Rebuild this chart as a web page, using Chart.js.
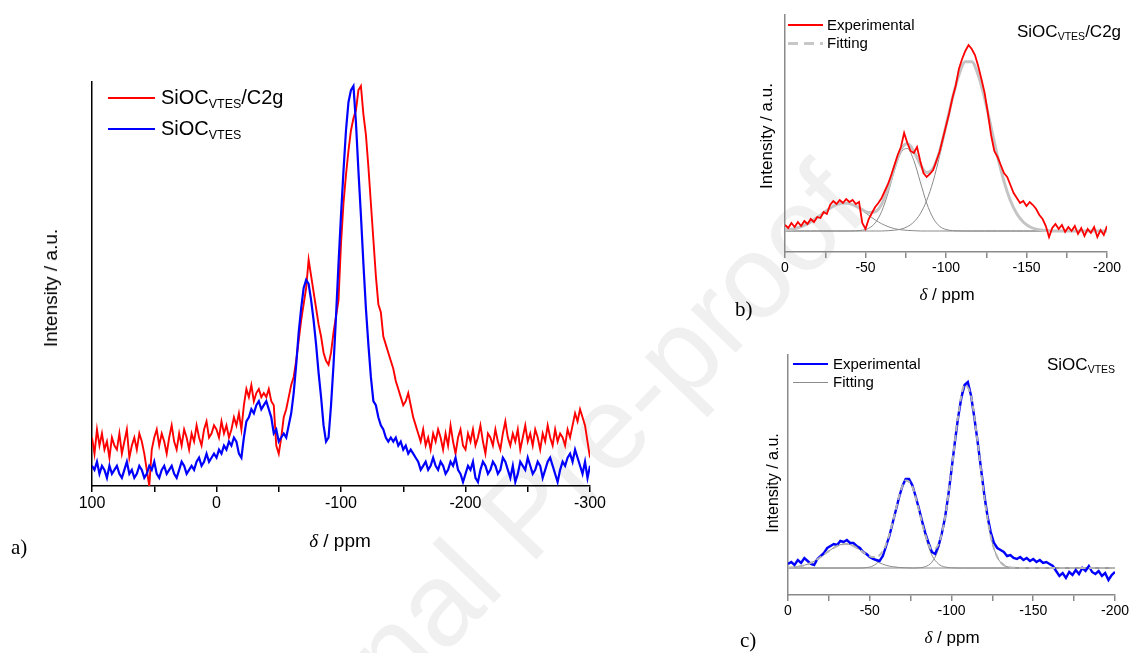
<!DOCTYPE html>
<html>
<head>
<meta charset="utf-8">
<script src="https://cdn.jsdelivr.net/npm/chart.js@4.4.0/dist/chart.umd.min.js"></script>
<style>
body{margin:0;width:1131px;height:653px;position:relative;overflow:hidden;background:#fff;font-family:"Liberation Sans",Arial,sans-serif;color:#000}
canvas{position:absolute}
.t{position:absolute;white-space:nowrap}
.sub{font-size:0.62em;position:relative;top:0.32em}
.line{position:absolute;height:0}
.rot{position:absolute;white-space:nowrap;transform:translate(-50%,-50%) rotate(-90deg)}
.ctr{position:absolute;white-space:nowrap;transform:translate(-50%,-50%)}
.wm{position:absolute;left:525px;top:512px;transform:translate(-50%,-50%) rotate(-46deg);font-size:118px;color:#f0f0f0;white-space:nowrap}
.d{font-family:"Liberation Serif","Times New Roman",serif;font-style:italic}
.lab{position:absolute;font-family:"Liberation Serif","Times New Roman",serif;font-size:21px}
</style>
</head>
<body>
<div class="wm">Journal Pre-proof</div>

<canvas id="chartA" width="620" height="560" style="left:0;top:0"></canvas>
<canvas id="chartB" width="391" height="320" style="left:740px;top:0"></canvas>
<canvas id="chartC" width="391" height="313" style="left:740px;top:340px"></canvas>

<!-- panel a texts -->
<div class="line" style="left:108px;top:97px;width:47px;border-top:2px solid #ff0000"></div>
<div class="t" style="left:161px;top:85px;font-size:20px;line-height:24px">SiOC<span class="sub">VTES</span>/C2g</div>
<div class="line" style="left:108px;top:128px;width:47px;border-top:2.5px solid #0000ff"></div>
<div class="t" style="left:161px;top:116px;font-size:20px;line-height:24px">SiOC<span class="sub">VTES</span></div>
<div class="rot" style="left:51px;top:288px;font-size:19px">Intensity / a.u.</div>
<div class="ctr" style="left:340px;top:541px;font-size:19px"><span class="d">δ</span> / ppm</div>
<div class="lab" style="left:11px;top:535px">a)</div>

<!-- panel b texts -->
<div class="line" style="left:788px;top:24px;width:35px;border-top:2px solid #ff0000"></div>
<div class="t" style="left:827px;top:16px;font-size:15px;line-height:18px">Experimental</div>
<div class="line" style="left:788px;top:42px;width:35px;height:3px;background:repeating-linear-gradient(90deg,#c8c8c8 0 10px,transparent 10px 16px)"></div>
<div class="t" style="left:827px;top:34px;font-size:15px;line-height:18px">Fitting</div>
<div class="t" style="left:1017px;top:22px;font-size:17px;line-height:20px">SiOC<span class="sub">VTES</span>/C2g</div>
<div class="rot" style="left:767px;top:136px;font-size:17px">Intensity / a.u.</div>
<div class="ctr" style="left:947px;top:295px;font-size:17px"><span class="d">δ</span> / ppm</div>
<div class="lab" style="left:735px;top:297px">b)</div>

<!-- panel c texts -->
<div class="line" style="left:793px;top:363px;width:35px;border-top:2.5px solid #0000ff"></div>
<div class="t" style="left:833px;top:355px;font-size:15px;line-height:18px">Experimental</div>
<div class="line" style="left:793px;top:382px;width:35px;border-top:1px solid #8a8a8a"></div>
<div class="t" style="left:833px;top:373px;font-size:15px;line-height:18px">Fitting</div>
<div class="t" style="left:1047px;top:355px;font-size:17px;line-height:20px">SiOC<span class="sub">VTES</span></div>
<div class="rot" style="left:773px;top:483px;font-size:16px">Intensity / a.u.</div>
<div class="ctr" style="left:952px;top:638px;font-size:17px"><span class="d">δ</span> / ppm</div>
<div class="lab" style="left:740px;top:628px">c)</div>

<script>
// panel a: ppm grid 100 -> -300, step 2
const aStart = 100, aStep = -2;
const aBlue = [
  5,4,6,3,5,4,2,5,3,4,
  5,3,2,4,6,3,4,2,3,5,
  4,2,3,5,4,6,3,2,4,5,
  3,4,5,3,2,4,6,5,3,4,
  5,4,6,7,5,6,8,6,7,8,
  7,9,8,10,9,11,10,12,11,8,
  7,12,16,17,19,18,20,21,19,20,
  21,19,17,13,14,11,12,13,12,15,
  18,23,30,38,44,49,51,50,46,41,
  35,28,22,15,11,12,20,30,42,55,
  67,78,88,95,98,99,90,78,67,55,
  44,35,27,21,20,17,15,14,12,11,
  12,11,12,10,11,9,10,8,9,8,
  7,6,4,5,6,4,5,7,5,4,
  6,5,3,4,6,5,7,4,3,1,
  3,5,4,6,2,1,4,6,5,3,
  4,6,5,3,4,7,6,4,2,5,
  1,3,6,5,4,7,5,3,4,6,
  5,2,4,6,7,5,3,1,4,6,
  5,7,8,6,9,7,5,3,6,2,
  5
];
const aRed = [
  12,8,14,10,13,9,11,7,12,10,
  9,13,8,11,14,7,10,12,9,13,
  11,8,4,0,9,12,14,10,13,11,
  8,12,15,11,9,13,10,14,12,9,
  13,11,15,12,10,14,16,12,13,15,
  14,12,16,13,15,12,14,17,15,18,
  14,20,24,22,25,21,23,24,22,23,
  22,24,21,20,10,8,12,17,19,22,
  25,27,31,36,41,45,49,56,52,48,
  44,40,37,33,31,30,33,38,42,46,
  60,70,77,83,88,91,93,98,99,92,
  87,79,70,61,52,45,43,37,35,33,
  31,29,26,24,22,20,21,23,20,17,
  15,13,11,14,10,12,9,13,11,14,
  12,9,13,10,15,11,8,12,14,10,
  9,13,11,14,10,12,15,11,8,13,
  12,10,14,11,9,13,16,12,10,13,
  11,14,9,12,15,11,13,10,14,12,
  9,13,11,15,12,10,14,11,13,12,
  10,14,12,15,18,16,19,17,15,11,
  7
];
const aTicks = [100, 0, -100, -200, -300];

// panel b: experimental grid 0 -> -200 step 2, fit grid 0 -> -200 step 4
const bStart = 0, bStep = -2;
const bRed = [
  6,3,8,4,9,5,10,7,12,9,
  14,13,19,17,26,30,27,31,28,32,
  29,31,27,29,8,2,12,18,24,28,
  33,40,47,56,66,76,84,98,88,80,
  78,84,70,58,54,57,61,70,79,92,
  105,118,133,145,162,172,180,186,182,176,
  165,152,138,118,96,80,74,66,58,54,
  46,38,33,28,30,25,29,26,22,16,
  12,5,-6,3,7,2,6,-1,4,0,
  5,-3,3,-5,2,-2,4,-6,1,-4,
  5
];
const fStart = 0, fStep = -4;
const bFit = [
  0.9,1.7,3.3,5.7,9.1,13.4,18.2,22.8,26.3,28,
  27.4,24.9,21.4,18.5,19.2,26.7,42.7,63.7,81.4,87.4,
  79.9,66.4,58.4,62.6,79.6,105.2,132.9,156.1,169.3,169.3,
  156,132.5,103.7,74.8,49.7,30.5,17.2,9,4.3,1.9,
  0.8,0.3,0,0,0,0,0,0,0,0,
  0
];
const bPeak1 = [
  0.9,1.7,3.3,5.7,9.1,13.4,18.2,22.8,26.3,28,
  27.4,24.7,20.6,15.8,11.1,7.3,4.4,2.4,1.2,0.6,
  0.3,0,0,0,0,0,0,0,0,0,
  0,0,0,0,0,0,0,0,0,0,
  0,0,0,0,0,0,0,0,0,0,
  0
];
const bPeak2 = [
  0,0,0,0,0,0,0,0,0,0,
  0,0.2,0.8,2.7,8.1,19.4,38,60.5,78.3,82.5,
  70.6,49.2,27.9,12.9,4.8,1.5,0.4,0.1,0,0,
  0,0,0,0,0,0,0,0,0,0,
  0,0,0,0,0,0,0,0,0,0,
  0
];
const bPeak3 = [
  0,0,0,0,0,0,0,0,0,0,
  0,0,0,0,0,0,0.3,0.8,1.9,4.3,
  9,17.2,30.5,49.7,74.8,103.7,132.5,156,169.3,169.3,
  156,132.5,103.7,74.8,49.7,30.5,17.2,9,4.3,1.9,
  0.8,0.3,0,0,0,0,0,0,0,0,
  0
];

// panel c
const cBlue = [
  4,6,3,8,5,10,7,4,3,9,
  12,15,20,22,24,23,27,26,28,25,
  25,22,20,16,14,11,9,8,7,12,
  22,32,45,58,71,82,89,89,83,72,
  60,47,35,25,16,14,22,34,50,72,
  98,125,150,170,183,186,172,150,126,100,
  74,52,36,25,20,18,16,12,13,10,
  9,11,8,10,7,9,6,8,5,6,
  4,2,-3,-8,-5,-10,-4,-7,-2,-6,
  0,-3,2,-4,-6,-3,-8,-5,-12,-7,
  -4
];
const cFit = [
  0.3,0.9,1.9,3.8,6.8,11,15.8,20.2,23.3,23.9,
  22,18.1,13.7,10.9,12.8,23.7,45.6,71.7,87.5,81.6,
  58.3,33,18.8,23.4,50.1,97.9,151.4,182.6,171.5,125.5,
  71.6,31.6,11,2.9,0.6,0.1,0,0,0,0,
  0,0,0,0,0,0,0,0,0,0,
  0
];
const cPeak1 = [
  0.3,0.9,1.9,3.8,6.8,11,15.8,20.2,23.3,23.9,
  22,18.1,13.3,8.8,5.2,2.7,1.3,0.5,0.2,0,
  0,0,0,0,0,0,0,0,0,0,
  0,0,0,0,0,0,0,0,0,0,
  0,0,0,0,0,0,0,0,0,0,
  0
];
const cPeak2 = [
  0,0,0,0,0,0,0,0,0,0,
  0,0,0.4,2.1,7.6,21,44.3,71.2,87.3,81.6,
  58.1,31.6,13,4.1,1,0.2,0,0,0,0,
  0,0,0,0,0,0,0,0,0,0,
  0,0,0,0,0,0,0,0,0,0,
  0
];
const cPeak3 = [
  0,0,0,0,0,0,0,0,0,0,
  0,0,0,0,0,0,0,0,0,0,
  0.2,1.4,5.8,19.3,49.1,97.7,151.4,182.6,171.5,125.5,
  71.6,31.6,11,2.9,0.6,0.1,0,0,0,0,
  0,0,0,0,0,0,0,0,0,0,
  0
];

function pts(start, step, vals) {
  return vals.map((v, i) => ({x: start + step * i, y: v}));
}

function spectrum(vals, start, step, color, width) {
  return {data: pts(start, step, vals), borderColor: color, borderWidth: width,
          pointRadius: 0, tension: 0, fill: false};
}
function smooth(vals, color, width, dash) {
  return {data: pts(fStart, fStep, vals), borderColor: color, borderWidth: width,
          borderDash: dash || [], pointRadius: 0, cubicInterpolationMode: 'monotone', fill: false};
}

function makeChart(id, datasets, o) {
  const ctx = document.getElementById(id).getContext('2d');
  return new Chart(ctx, {
    type: 'line',
    data: {datasets: datasets},
    options: {
      responsive: false,
      animation: false,
      devicePixelRatio: 1,
      layout: {padding: {top: o.top, right: o.right, left: 0, bottom: 0}},
      plugins: {legend: {display: false}, tooltip: {enabled: false}},
      scales: {
        x: {
          type: 'linear', reverse: true, min: o.xmin, max: o.xmax,
          afterFit: s => { s.height = o.xH; },
          ticks: {stepSize: o.step, autoSkip: false, maxRotation: 0, color: '#000', padding: 2,
                  font: {family: 'Liberation Sans', size: o.fs},
                  callback: v => (o.labels.includes(v) ? String(v) : '')},
          grid: {drawOnChartArea: false, tickLength: 6, color: o.axis, lineWidth: 1.5},
          border: {color: o.axis, width: 1.5}
        },
        y: {
          min: o.ymin, max: o.ymax,
          afterFit: s => { s.width = o.yW; },
          ticks: {display: false},
          grid: {drawOnChartArea: false, drawTicks: false},
          border: {color: o.axis, width: 1.5}
        }
      }
    }
  });
}

makeChart('chartA', [
  spectrum(aBlue, aStart, aStep, '#0000ff', 2.2),
  spectrum(aRed, aStart, aStep, '#ff0000', 1.9)
], {xmin: -300, xmax: 100, ymin: 0, ymax: 100, top: 82, right: 30, xH: 74, yW: 92,
    step: 50, labels: aTicks, fs: 16, axis: '#000'});

const bcTicks = [0, -50, -100, -150, -200];

makeChart('chartB', [
  spectrum(bRed, bStart, bStep, '#ff0000', 1.8),
  smooth(bFit, '#c4c4c4', 3),
  smooth(bPeak1, '#8a8a8a', 1),
  smooth(bPeak2, '#8a8a8a', 1),
  smooth(bPeak3, '#8a8a8a', 1)
], {xmin: -200, xmax: 0, ymin: -21, ymax: 216, top: 15, right: 24, xH: 68, yW: 45,
    step: 25, labels: bcTicks, fs: 14, axis: '#8a8a8a'});

makeChart('chartC', [
  smooth(cFit, '#b4b4b4', 2, [6, 4]),
  spectrum(cBlue, bStart, bStep, '#0000ff', 2.4),
  smooth(cPeak1, '#8a8a8a', 1),
  smooth(cPeak2, '#8a8a8a', 1),
  smooth(cPeak3, '#8a8a8a', 1)
], {xmin: -200, xmax: 0, ymin: -27, ymax: 213, top: 15, right: 15, xH: 58, yW: 48,
    step: 25, labels: bcTicks, fs: 14, axis: '#8a8a8a'});
</script>
</body>
</html>
